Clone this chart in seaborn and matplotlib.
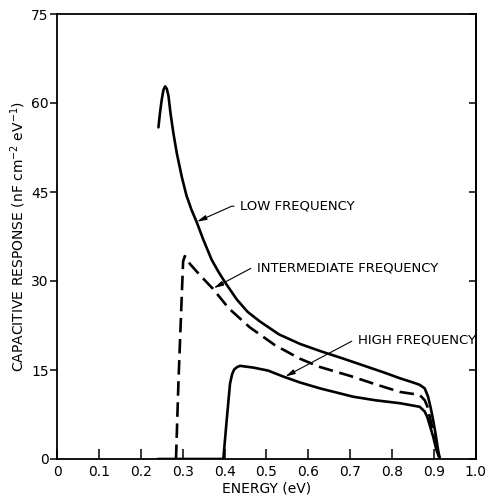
import numpy as np
import pandas as pd
import seaborn as sns
import matplotlib.pyplot as plt

# values: energy (eV) vs capacitive response
low_x = [0.242, 0.246, 0.250, 0.254, 0.258, 0.262, 0.266, 0.271, 0.278, 0.286, 0.298,
         0.309, 0.321, 0.333, 0.349, 0.369, 0.385, 0.400, 0.429, 0.455, 0.484, 0.530,
         0.580, 0.628, 0.680, 0.730, 0.780, 0.819, 0.850, 0.866, 0.878, 0.886, 0.892,
         0.898, 0.904, 0.910, 0.914]
low_y = [55.9, 58.5, 60.6, 62.2, 62.8, 62.4, 61.2, 58.2, 54.8, 51.5, 47.5,
         44.4, 42.0, 40.0, 37.0, 33.6, 31.6, 29.9, 26.9, 24.8, 23.2, 21.0,
         19.4, 18.2, 17.0, 15.8, 14.6, 13.6, 12.9, 12.5, 11.9, 10.5, 8.7,
         6.6, 4.2, 1.5, 0.0]

mid_x = [0.284, 0.290, 0.298, 0.301, 0.305, 0.310, 0.317, 0.341, 0.372, 0.410, 0.460,
         0.520, 0.580, 0.628, 0.700, 0.760, 0.819, 0.866, 0.878, 0.884, 0.890, 0.898,
         0.906, 0.914]
mid_y = [0.0, 13.3, 28.0, 33.3, 34.2, 33.8, 32.9, 31.0, 28.7, 25.4, 22.2,
         19.2, 16.9, 15.5, 14.0, 12.6, 11.3, 10.8, 9.9, 8.9, 7.1, 4.7,
         2.1, 0.0]

high_x = [0.240, 0.397, 0.405, 0.413, 0.418, 0.423, 0.430, 0.437, 0.469, 0.504, 0.540,
          0.580, 0.628, 0.707, 0.760, 0.819, 0.866, 0.878, 0.884, 0.890, 0.898, 0.906,
          0.914]
high_y = [0.0, 0.0, 6.5, 12.7, 14.3, 15.1, 15.5, 15.7, 15.4, 14.9, 13.9,
          12.9, 11.9, 10.5, 9.9, 9.4, 8.8, 8.0, 7.1, 5.7, 3.8, 1.5,
          0.0]

x_ticks = [0, 0.1, 0.2, 0.3, 0.4, 0.5, 0.6, 0.7, 0.8, 0.9, 1.0]
x_labels = ["0", "0.1", "0.2", "0.3", "0.4", "0.5", "0.6", "0.7", "0.8", "0.9", "1.0"]
y_ticks = [0, 15, 30, 45, 60, 75]

sns.set_style("ticks")
plt.rcParams['font.family'] = ['DejaVu Sans']
plt.rcParams['mathtext.default'] = 'regular'
plt.rcParams['text.color'] = 'black'
plt.rcParams['axes.labelcolor'] = 'black'
plt.rcParams['xtick.color'] = 'black'
plt.rcParams['ytick.color'] = 'black'
plt.rcParams['axes.edgecolor'] = 'black'

fig = plt.figure(figsize=(4.88, 5.0), dpi=100)
ax = fig.add_axes([0.117, 0.082, 0.858, 0.890])

lw = 1.9
sns.lineplot(x=low_x, y=low_y, ax=ax, color='black', lw=lw, sort=False, estimator=None)
sns.lineplot(x=mid_x, y=mid_y, ax=ax, color='black', lw=lw, sort=False, estimator=None)
ax.lines[-1].set_dashes((5.5, 2.5))
sns.lineplot(x=high_x, y=high_y, ax=ax, color='black', lw=lw, sort=False, estimator=None)
for ln in ax.lines:
    ln.set_solid_joinstyle('round')
    ln.set_dash_joinstyle('round')

ax.set_xlim(0, 1.0)
ax.set_ylim(0, 75)
ax.set_xticks(x_ticks)
ax.set_xticklabels(x_labels)
ax.set_yticks(y_ticks)
ax.tick_params(axis='x', direction='in', length=7, width=1.1, labelsize=10, pad=4)
ax.tick_params(axis='y', direction='out', length=5, width=1.1, labelsize=10, pad=1)
for s in ax.spines.values():
    s.set_linewidth(1.3)
    s.set_visible(True)

sec = ax.secondary_yaxis('right')
sec.set_yticks(y_ticks)
sec.tick_params(direction='in', length=5, width=1.1, labelright=False)
sec.spines['right'].set_linewidth(1.3)

ax.set_xlabel("ENERGY (eV)", fontsize=10, labelpad=2)
ax.set_ylabel("CAPACITIVE RESPONSE (nF cm$^{-2}$ eV$^{-1}$)", fontsize=10, labelpad=2)

arrow = dict(arrowstyle="-|>,head_length=0.6,head_width=0.15", lw=0.8, color='black',
             shrinkA=2, shrinkB=0)
ax.annotate("LOW FREQUENCY", xy=(0.334, 40.0), xytext=(0.437, 42.6),
            fontsize=9.5, va='center', ha='left',
            arrowprops=dict(arrow, connectionstyle="angle,angleA=0,angleB=24,rad=0",
                            relpos=(0, 0.5)))
ax.annotate("INTERMEDIATE FREQUENCY", xy=(0.374, 28.8), xytext=(0.477, 32.2),
            fontsize=9.5, va='center', ha='left',
            arrowprops=dict(arrow, connectionstyle="angle,angleA=0,angleB=28,rad=0",
                            relpos=(0, 0.5)))
ax.annotate("HIGH FREQUENCY", xy=(0.545, 13.9), xytext=(0.718, 20.0),
            fontsize=9.5, va='center', ha='left',
            arrowprops=dict(arrow, connectionstyle="angle,angleA=0,angleB=28,rad=0",
                            relpos=(0, 0.5)))

fig.savefig("out.png", dpi=100)
